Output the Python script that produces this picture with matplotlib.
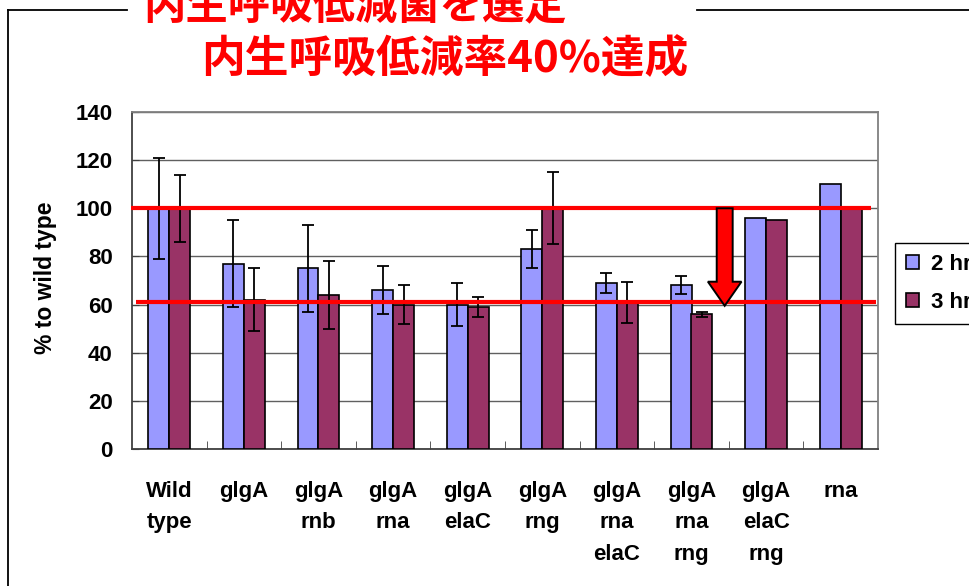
import matplotlib
matplotlib.use('Agg')
import matplotlib.pyplot as plt
import numpy as np
from matplotlib.patches import FancyArrow
from matplotlib.lines import Line2D

# data
strains = ['Wild\ntype', 'glgA', 'glgA\nrnb', 'glgA\nrna', 'glgA\nelaC', 'glgA\nrng',
           'glgA\nrna\nelaC', 'glgA\nrna\nrng', 'glgA\nelaC\nrng', 'rna']
hr2 = [100, 77, 75, 66, 60, 83, 69, 68, 96, 110]
hr2_err = [21, 18, 18, 10, 9, 8, 4, 3.7, 0, 0]
hr3 = [100, 62, 64, 60, 59, 100, 61, 56, 95, 100]
hr3_err = [14, 13, 14, 8, 4, 15, 8.5, 1, 0, 0]
series_labels = ['2 hr', '3 hr']
y_ticks = [0, 20, 40, 60, 80, 100, 120, 140]

# reference levels and the arrow between them
upper_level = 100
lower_level = 61
arrow_x = 7.445

title_line1 = '内生呼吸低減菌を選定'
title_line2 = '内生呼吸低減率40%達成'

plt.rcParams['font.family'] = ['Liberation Sans', 'DejaVu Sans']

fig = plt.figure(figsize=(9.7, 5.86), dpi=100)
ax = fig.add_axes([132 / 970, 1 - 449 / 586, 746 / 970, 337 / 586])

x = np.arange(len(strains))
w = 0.28
blue = '#9999ff'
maroon = '#993366'

b1 = ax.bar(x - w / 2, hr2, w, color=blue, edgecolor='black', linewidth=1.2, zorder=3, label=series_labels[0])
b2 = ax.bar(x + w / 2, hr3, w, color=maroon, edgecolor='black', linewidth=1.2, zorder=3, label=series_labels[1])

e2 = np.array(hr2_err)
e3 = np.array(hr3_err)
m2 = e2 > 0
m3 = e3 > 0
ax.errorbar((x - w / 2)[m2], np.array(hr2)[m2], yerr=e2[m2], fmt='none', ecolor='black',
            elinewidth=1.3, capsize=4.5, capthick=1.3, zorder=4)
ax.errorbar((x + w / 2)[m3], np.array(hr3)[m3], yerr=e3[m3], fmt='none', ecolor='black',
            elinewidth=1.3, capsize=4.5, capthick=1.3, zorder=4)

# red threshold lines
ax.hlines(upper_level, -0.51, 9.40, color='red', linewidth=3, zorder=5, clip_on=False)
ax.hlines(lower_level, -0.45, 9.47, color='red', linewidth=3, zorder=5, clip_on=False)

arrow = FancyArrow(arrow_x, upper_level, 0, -(upper_level - 59.5), width=0.214, head_width=0.45,
                   head_length=10, length_includes_head=True, facecolor='red',
                   edgecolor='black', linewidth=1.4, zorder=6)
ax.add_patch(arrow)

ax.set_xlim(-0.5, len(strains) - 0.5)
ax.set_ylim(0, 140)
ax.set_yticks(y_ticks)
ax.set_yticklabels([str(t) for t in y_ticks], fontsize=16, fontweight='bold')
ax.tick_params(axis='y', direction='in', length=5, pad=14, color='#404040')

ax.set_xticks(x)
ax.set_xticklabels(strains, fontsize=16, fontweight='bold', linespacing=1.65)
ax.tick_params(axis='x', which='major', length=0, pad=23)
ax.set_xticks(np.arange(0.5, len(strains) - 1, 1), minor=True)
ax.tick_params(axis='x', which='minor', direction='in', length=5.5, color='#404040')

ax.grid(axis='y', color='#606060', linewidth=1, zorder=0)
ax.set_axisbelow(True)
for side in ['top', 'right']:
    ax.spines[side].set_color('#808080')
for side in ['left', 'bottom']:
    ax.spines[side].set_color('#404040')
for s in ax.spines.values():
    s.set_linewidth(1.3)

fig.text(46 / 970, 1 - 278 / 586, '% to wild type', rotation=90, ha='center', va='center',
         fontsize=16.5, fontweight='bold')

leg = fig.legend(handles=[b1, b2], loc='upper left', bbox_to_anchor=(895 / 970, 1 - 243 / 586),
                 bbox_transform=fig.transFigure, borderaxespad=0, fancybox=False,
                 edgecolor='black', framealpha=1, prop={'weight': 'bold', 'size': 16},
                 handlelength=0.6, handleheight=0.6, handletextpad=0.5, labelspacing=0.75,
                 borderpad=0.5)
leg.get_frame().set_linewidth(1)

# frame around the slide area, broken by the title
fig.add_artist(Line2D([8 / 970, 8 / 970], [0, 1 - 10 / 586], color='black', linewidth=1.3))
fig.add_artist(Line2D([8 / 970, 127 / 970], [1 - 10 / 586, 1 - 10 / 586], color='black', linewidth=1.3))
fig.add_artist(Line2D([697 / 970, 1], [1 - 10 / 586, 1 - 10 / 586], color='black', linewidth=1.3))

title_font = ['Noto Sans CJK JP', 'DejaVu Sans']
fig.text(143 / 970, 1 - 6 / 586, title_line1, ha='left', va='center', fontsize=30.5,
         fontweight='bold', color='red', family=title_font)
fig.text(201 / 970, 1 - 59 / 586, title_line2, ha='left', va='center', fontsize=31.5,
         fontweight='bold', color='red', family=title_font)

fig.savefig('out.png', dpi=100)
